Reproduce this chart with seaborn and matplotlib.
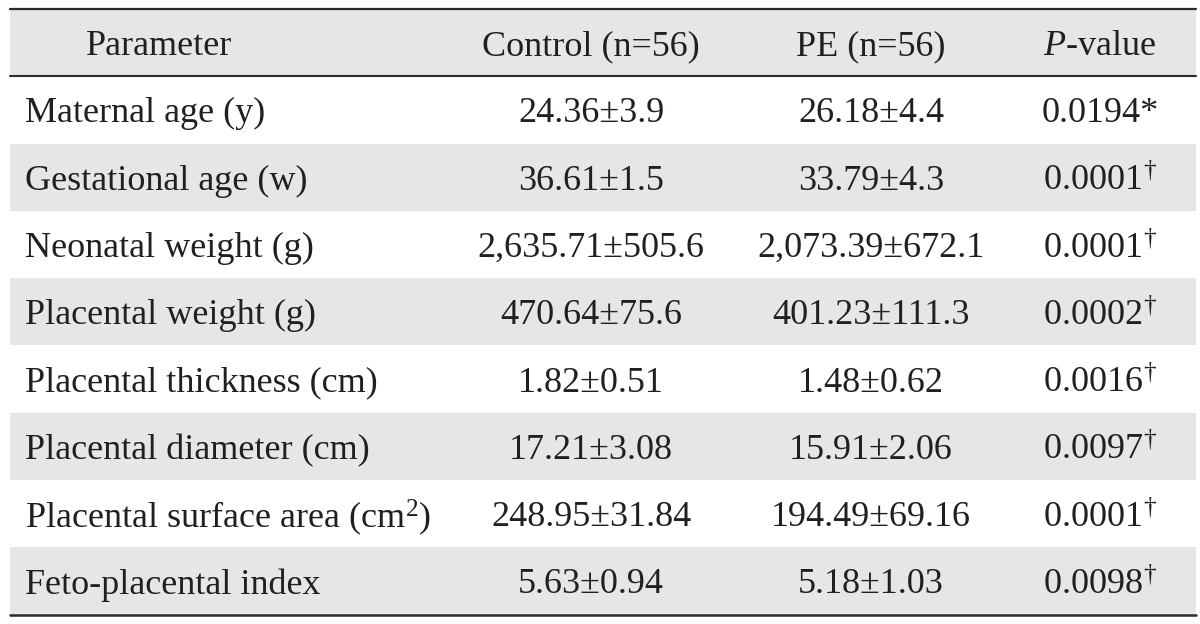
import numpy as np
import matplotlib
matplotlib.use("Agg")
import matplotlib.pyplot as plt
from matplotlib.colors import ListedColormap
import seaborn as sns


# =============================================================================
# Table data
# =============================================================================

header = ["Parameter", "Control (n=56)", "PE (n=56)", "$P$-value"]

parameters = [
    "Maternal age (y)",
    "Gestational age (w)",
    "Neonatal weight (g)",
    "Placental weight (g)",
    "Placental thickness (cm)",
    "Placental diameter (cm)",
    "Placental surface area (cm$^2$)",
    "Feto-placental index",
]

control = [
    "24.36±3.9", "36.61±1.5", "2,635.71±505.6", "470.64±75.6",
    "1.82±0.51", "17.21±3.08", "248.95±31.84", "5.63±0.94",
]

pe = [
    "26.18±4.4", "33.79±4.3", "2,073.39±672.1", "401.23±111.3",
    "1.48±0.62", "15.91±2.06", "194.49±69.16", "5.18±1.03",
]

p_values = [
    "0.0194*", "0.0001$^{\\!\\dagger}$", "0.0001$^{\\!\\dagger}$",
    "0.0002$^{\\!\\dagger}$", "0.0016$^{\\!\\dagger}$", "0.0097$^{\\!\\dagger}$",
    "0.0001$^{\\!\\dagger}$", "0.0098$^{\\!\\dagger}$",
]


# =============================================================================
# Styling
# =============================================================================

sns.set_theme(style="white")
plt.rcParams["font.family"] = ["Liberation Serif", "DejaVu Serif"]
plt.rcParams["mathtext.fontset"] = "custom"
plt.rcParams["mathtext.rm"] = "Liberation Serif"
plt.rcParams["mathtext.it"] = "Liberation Serif:italic"
plt.rcParams["mathtext.sf"] = "Liberation Serif"

TEXT = "#231f20"
GRAY = "#e6e6e6"
RULE = "#2b2b2b"
FS = 26

n_rows = len(parameters) + 1
stripes = np.array([[(i + 1) % 2] for i in range(n_rows)])


fig = plt.figure(figsize=(12, 6.24), dpi=100)
ax = fig.add_axes([10 / 1200, 9.5 / 624, 1186 / 1200, 605.5 / 624])

sns.heatmap(
    stripes,
    cmap=ListedColormap(["white", GRAY]),
    cbar=False,
    xticklabels=False,
    yticklabels=False,
    ax=ax,
)

# header
col_x = [0.126, 0.490, 0.726, 0.919]
for x, label in zip(col_x, header):
    ax.text(x, 0.56, label, ha="center", va="center",
            fontsize=FS, color=TEXT)

# body
for i in range(len(parameters)):
    y = i + 1.56
    ax.text(0.013, y, parameters[i], ha="left", va="center",
            fontsize=FS, color=TEXT)
    ax.text(col_x[1], y, control[i], ha="center", va="center",
            fontsize=FS, color=TEXT)
    ax.text(col_x[2], y, pe[i], ha="center", va="center",
            fontsize=FS, color=TEXT)
    ax.text(col_x[3], y, p_values[i], ha="center", va="center",
            fontsize=FS, color=TEXT)

# rules
ax.axhline(0, color=RULE, linewidth=1.6, clip_on=False)
ax.axhline(1, color=RULE, linewidth=1.5, clip_on=False)
ax.axhline(n_rows, color=RULE, linewidth=1.8, clip_on=False)

for spine in ax.spines.values():
    spine.set_visible(False)

ax.set_xlim(0, 1)
ax.set_ylim(n_rows, 0)

plt.savefig("out.png", dpi=100)
